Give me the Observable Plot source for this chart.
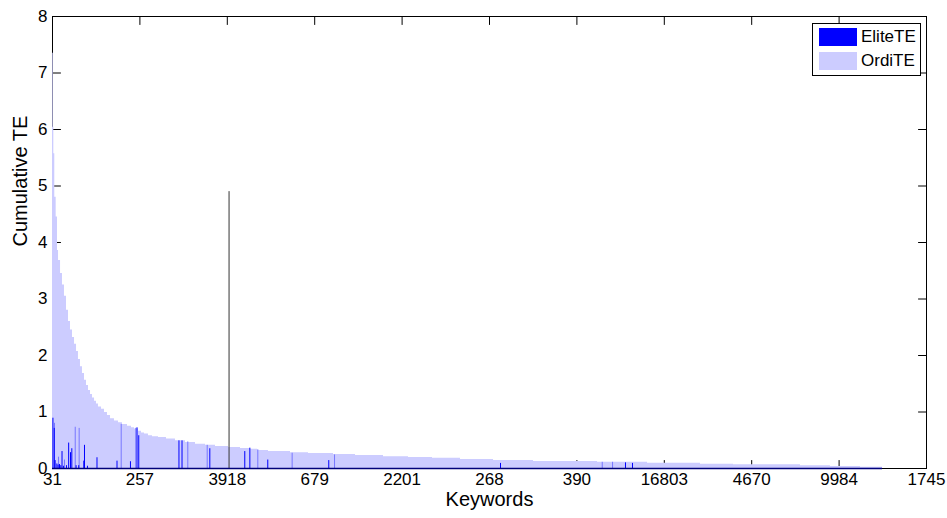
<!DOCTYPE html>
<html>
<head>
<meta charset="utf-8">
<script src="https://cdn.jsdelivr.net/npm/d3@7"></script>
<script src="https://cdn.jsdelivr.net/npm/@observablehq/plot@0.6"></script>
<style>
  html, body { margin: 0; padding: 0; background: #fff; }
  #wrap { position: relative; width: 947px; height: 518px; font-family: "Liberation Sans", Arial, sans-serif; }
  #legend { position: absolute; left: 812px; top: 23px; width: 107px; height: 51px; border: 1px solid #000; background: #fff; }
  .item { position: absolute; left: 6px; height: 18px; display: flex; align-items: center; font-size: 17px; color: #000; }
  .sw { width: 38px; height: 18px; margin-right: 4px; }
</style>
</head>
<body>
<div id="wrap">
  <div id="chart"></div>
  <div id="legend">
    <div class="item" style="top:4px"><div class="sw" style="background:#0000ff"></div>EliteTE</div>
    <div class="item" style="top:28px"><div class="sw" style="background:#ccccff"></div>OrdiTE</div>
  </div>
</div>
<script>
// ---- data (keyword rank on a 0..10000 axis) ----
const tickRanks = [0, 1000, 2000, 3000, 4000, 5000, 6000, 7000, 8000, 9000, 10000];
const tickLabels = ["31", "257", "3918", "679", "2201", "268", "390", "16803", "4670", "9984", "1745"];
const yTicks = [0, 1, 2, 3, 4, 5, 6, 7, 8];

// stacked bar tops (EliteTE + OrdiTE), sorted descending; each run ends at the given rank
const runEnd = [8, 15, 26, 42, 57, 69, 92, 114, 137, 160, 183, 206, 229, 252, 275, 297, 320, 343, 366, 389,
  412, 435, 458, 481, 503, 526, 561, 595, 629, 664, 709, 755, 801, 858, 904, 938, 984, 1018, 1053, 1098,
  1144, 1213, 1304, 1407, 1522, 1636, 1751, 1865, 2014, 2151, 2265, 2346, 2471, 2723, 2929, 3215, 3467, 3787, 4073, 4348,
  4668, 5046, 5504, 6236, 6808, 7414, 7792, 8558, 8901, 9245, 9497];
const stackTop = [7.35, 6.04, 5.57, 4.8, 4.45, 3.86, 3.68, 3.45, 3.25, 3.05, 2.8, 2.6, 2.45, 2.32, 2.2, 2.07, 1.93, 1.8, 1.68, 1.56,
  1.47, 1.38, 1.31, 1.25, 1.19, 1.14, 1.09, 1.05, 0.99, 0.94, 0.88, 0.84, 0.81, 0.78, 0.75, 0.72, 0.70, 0.66, 0.63, 0.61,
  0.58, 0.56, 0.55, 0.52, 0.49, 0.46, 0.43, 0.41, 0.39, 0.37, 0.355, 0.34, 0.32, 0.30, 0.28, 0.265, 0.25, 0.23, 0.21, 0.195,
  0.18, 0.16, 0.14, 0.125, 0.11, 0.095, 0.076, 0.065, 0.048, 0.035, 0.02];

// EliteTE bars (full-width bars)
const eliteRank = [5, 20, 30, 50, 63, 80, 95, 109, 125, 160, 185, 206, 221, 270, 300, 358, 366, 400, 509, 738, 892, 967, 987,
  1447, 1482, 1800, 2200, 2258, 2463, 3161, 5126, 6556, 6636];
const eliteValue = [0.89, 0.71, 0.14, 0.08, 0.06, 0.07, 0.05, 0.30, 0.04, 0.05, 0.45, 0.28, 0.35, 0.05, 0.05, 0.13, 0.41, 0.04, 0.19, 0.13, 0.12, 0.72, 0.58,
  0.49, 0.49, 0.35, 0.30, 0.36, 0.15, 0.14, 0.09, 0.10, 0.09];
// EliteTE bars (narrow bars, drawn lighter)
const faintRank = [23, 69, 137, 260, 305, 786, 953, 1548, 1770, 2349, 2742, 3227, 6290, 6408];
const faintValue = [0.80, 0.20, 0.15, 0.73, 0.71, 0.78, 0.71, 0.47, 0.41, 0.33, 0.27, 0.24, 0.11, 0.11];

// single outlier keyword
const outlierRank = [2020];
const outlierValue = [4.9];

// ---- build tables ----
const area = runEnd.map((e, i) => ({x: i ? runEnd[i - 1] : 0, y: stackTop[i]}));
area.push({x: runEnd[runEnd.length - 1], y: stackTop[stackTop.length - 1]});
const elite = eliteRank.map((r, i) => ({x: r, y: eliteValue[i]}));
const faint = faintRank.map((r, i) => ({x: r, y: faintValue[i]}));
const outlier = outlierRank.map((r, i) => ({x: r, y: outlierValue[i]}));

const tickShape = {draw(context, l) { context.moveTo(0, 0); context.lineTo(0, -l); }};
const tk = {length: 8, anchor: "start", shape: tickShape, stroke: "#000", strokeWidth: 1};

const chart = Plot.plot({
  width: 947,
  height: 518,
  marginLeft: 52,
  marginRight: 21,
  marginTop: 16,
  marginBottom: 50,
  style: {fontFamily: "'Liberation Sans', Arial, sans-serif", fontSize: "17px", background: "#fff", color: "#000"},
  x: {domain: [0, 10000]},
  y: {domain: [0, 8]},
  marks: [
    // inward ticks on all four sides (below the data, MATLAB style)
    Plot.vector(tickRanks, {x: d => d, frameAnchor: "bottom", rotate: 0, ...tk}),
    Plot.vector(tickRanks, {x: d => d, frameAnchor: "top", rotate: 180, ...tk}),
    Plot.vector(yTicks, {y: d => d, frameAnchor: "left", rotate: 90, ...tk}),
    Plot.vector(yTicks, {y: d => d, frameAnchor: "right", rotate: -90, ...tk}),
    Plot.frame({stroke: "#000", strokeWidth: 1}),
    // OrdiTE stacked on top
    Plot.areaY(area, {x: "x", y: "y", curve: "step-after", fill: "#ccccff"}),
    // EliteTE
    Plot.ruleX(faint, {x: "x", y1: 0, y2: "y", stroke: "#7777ff", strokeWidth: 1}),
    Plot.ruleX(elite, {x: "x", y1: 0, y2: "y", stroke: "#0000ff", strokeWidth: 1}),
    Plot.ruleX(outlier, {x: "x", y1: 0, y2: "y", stroke: "#333", strokeWidth: 1}),
    Plot.ruleY([0], {x1: 0, x2: runEnd[runEnd.length - 1], stroke: "#00007a", strokeWidth: 1.5}),
    // axes
    Plot.axisX(tickRanks, {anchor: "bottom", tickSize: 0, tickPadding: 4, tickFormat: (d, i) => tickLabels[i], label: null, fontSize: 17}),
    Plot.axisY(yTicks, {anchor: "left", tickSize: 0, tickPadding: 5, tickFormat: d => String(d), label: null, fontSize: 17}),
    Plot.text(["Keywords"], {frameAnchor: "bottom", dy: 37, fontSize: 20, text: d => d}),
    Plot.text(["Cumulative TE"], {frameAnchor: "left", dx: -32, dy: 4, rotate: -90, fontSize: 20, text: d => d})
  ]
});
document.getElementById("chart").appendChild(chart);
</script>
</body>
</html>
